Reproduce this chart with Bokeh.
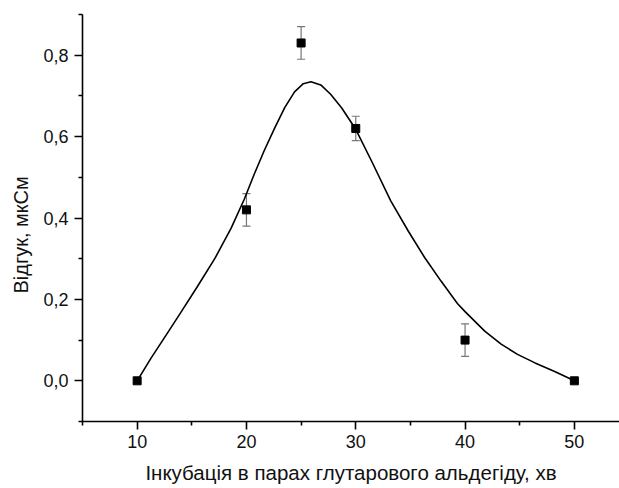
from bokeh.plotting import figure
from bokeh.models import (ColumnDataSource, Whisker, TeeHead, FixedTicker,
                          CustomJSTickFormatter, Range1d, Title)
from bokeh.embed import file_html
from bokeh.resources import INLINE

# measured points
x_pts = [10, 20, 25, 30, 40, 50]
y_pts = [0.0, 0.42, 0.83, 0.62, 0.10, 0.0]
y_err = [0.0, 0.04, 0.04, 0.03, 0.04, 0.0]

# fitted curve
curve_x = [10, 11.3, 12.5, 14.0, 15.5, 17.1, 18.6, 19.8, 20.7, 21.6, 22.6, 23.5,
           24.4, 25.2, 25.9, 26.8, 27.7, 28.7, 30.0, 31.5, 33.2, 34.8, 36.3,
           37.8, 39.3, 40.0, 41.8, 43.3, 44.8, 46.4, 48.2, 50]
curve_y = [0.0, 0.057, 0.106, 0.168, 0.231, 0.300, 0.375, 0.446, 0.507, 0.564,
           0.622, 0.671, 0.71, 0.73, 0.735, 0.727, 0.704, 0.671, 0.618, 0.537,
           0.442, 0.368, 0.303, 0.245, 0.19, 0.17, 0.122, 0.09, 0.065, 0.044,
           0.023, 0.0]

x_major = [10, 20, 30, 40, 50]
x_minor = [5, 15, 25, 35, 45]
y_major = [0.0, 0.2, 0.4, 0.6, 0.8]
y_minor = [-0.1, 0.1, 0.3, 0.5, 0.7, 0.9]

x_label = "Інкубація в парах глутарового альдегіду, хв"
y_label = "Відгук, мкСм"

FONT = "Liberation Sans"
TXT = "#111111"

p = figure(width=619, height=488, output_backend="svg", toolbar_location=None,
           x_range=Range1d(5, 54.13), y_range=Range1d(-0.1, 0.9),
           min_border_left=82, min_border_right=0, min_border_top=14,
           min_border_bottom=67)
p.outline_line_color = None
p.grid.visible = False
p.background_fill_color = "white"
p.border_fill_color = "white"

src = ColumnDataSource(dict(x=x_pts, y=y_pts))

p.line(curve_x, curve_y, line_color="black", line_width=1.6)

err_src = ColumnDataSource(dict(x=x_pts[1:5],
                                lo=[a - b for a, b in zip(y_pts[1:5], y_err[1:5])],
                                hi=[a + b for a, b in zip(y_pts[1:5], y_err[1:5])]))
w = Whisker(source=err_src, base="x", lower="lo", upper="hi",
            line_color="#777777", line_width=1.2,
            upper_head=TeeHead(size=8, line_color="#777777", line_width=1.2),
            lower_head=TeeHead(size=8, line_color="#777777", line_width=1.2))
p.add_layout(w)

p.scatter("x", "y", source=src, marker="square", size=8, color="black")

fmt = CustomJSTickFormatter(code="return tick.toFixed(1).replace('.', ',');")

for ax in (p.xaxis[0], p.yaxis[0]):
    ax.axis_line_width = 1.6
    ax.axis_line_color = "black"
    ax.major_tick_line_width = 1.6
    ax.minor_tick_line_width = 1.6
    ax.major_tick_out = 8
    ax.major_tick_in = 0
    ax.minor_tick_out = 4
    ax.minor_tick_in = 0
    ax.major_label_text_font = FONT
    ax.major_label_text_font_size = "18px"
    ax.major_label_text_color = TXT

p.xaxis[0].ticker = FixedTicker(ticks=x_major, minor_ticks=x_minor)
p.yaxis[0].ticker = FixedTicker(ticks=y_major, minor_ticks=y_minor)
p.yaxis[0].formatter = fmt
p.xaxis[0].major_label_standoff = 5
p.yaxis[0].major_label_standoff = 6

p.xaxis[0].axis_label = x_label
p.xaxis[0].axis_label_text_font = FONT
p.xaxis[0].axis_label_text_font_size = "20.5px"
p.xaxis[0].axis_label_text_font_style = "normal"
p.xaxis[0].axis_label_text_color = TXT
p.xaxis[0].axis_label_standoff = 10

ytitle = Title(text=y_label, align="left", offset=128, vertical_align="top",
               standoff=14, text_font=FONT, text_font_size="20px",
               text_font_style="normal", text_color=TXT)
p.add_layout(ytitle, "left")

open("out.html", "w").write(file_html(p, INLINE))
